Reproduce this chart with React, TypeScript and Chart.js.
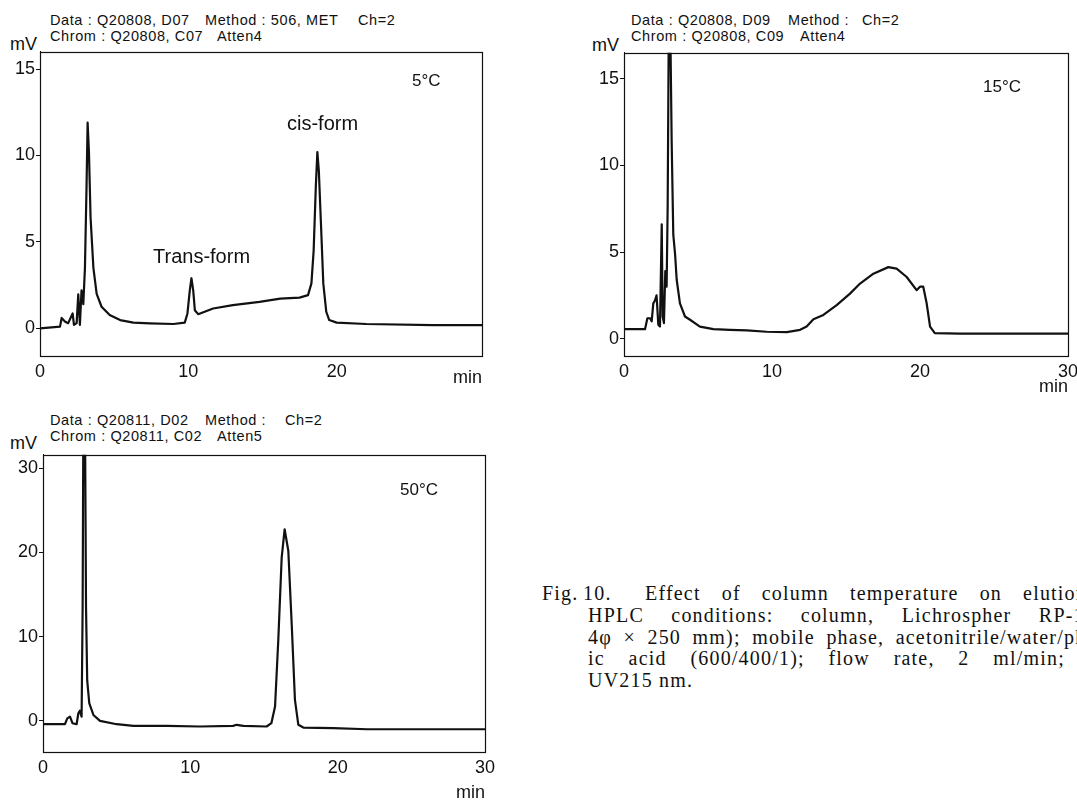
import React, { useEffect, useRef } from "react";
import { Chart, registerables } from "chart.js";

Chart.register(...registerables);

// ---- Data ----
// 5 °C chromatogram: retention time (min) and signal (mV)
const time5C = [0, 1.35, 1.46, 1.68, 1.9, 2.2, 2.29, 2.47, 2.58, 2.69, 2.8, 2.92, 3.03, 3.14, 3.21, 3.3, 3.41, 3.6, 3.82, 4.15, 4.7, 5.4, 6.3, 7.4, 9.0, 9.76, 9.94, 10.1, 10.21, 10.33, 10.44, 10.66, 11.1, 11.67, 13.0, 14.8, 16.2, 17.5, 18.07, 18.3, 18.45, 18.6, 18.7, 18.8, 18.97, 19.1, 19.3, 19.5, 20.0, 22.0, 26.5, 29.8];
const signal5C = [0, 0.1, 0.6, 0.4, 0.3, 0.86, 0.2, 0.3, 1.97, 0.2, 2.2, 1.4, 3.5, 8.3, 11.9, 10.2, 6.4, 3.5, 2.0, 1.25, 0.77, 0.48, 0.33, 0.29, 0.25, 0.33, 0.86, 2.2, 2.9, 2.2, 1.05, 0.82, 0.96, 1.15, 1.34, 1.53, 1.72, 1.78, 1.92, 2.6, 4.5, 8.3, 10.2, 9.1, 5.46, 2.6, 0.96, 0.48, 0.33, 0.25, 0.19, 0.19];

// 15 °C chromatogram
const time15C = [0, 1.42, 1.58, 1.76, 1.87, 1.98, 2.09, 2.2, 2.32, 2.43, 2.55, 2.61, 2.7, 2.79, 2.88, 2.95, 3.04, 3.1, 3.22, 3.33, 3.45, 3.56, 3.78, 4.12, 4.46, 5.13, 6.04, 7.16, 8.29, 9.64, 11.0, 11.9, 12.34, 12.8, 13.47, 14.37, 15.27, 15.95, 16.85, 17.86, 18.42, 19.1, 19.77, 20.0, 20.22, 20.45, 20.68, 21.0, 22.7, 30.0];
const signal15C = [0.55, 0.55, 1.18, 1.18, 1.0, 2.04, 2.2, 2.5, 0.8, 0.7, 6.6, 1.28, 0.9, 3.9, 3.0, 7.6, 20, 20, 11.4, 6.0, 4.9, 3.4, 2.04, 1.28, 1.09, 0.7, 0.55, 0.51, 0.48, 0.4, 0.38, 0.51, 0.7, 1.12, 1.37, 1.94, 2.6, 3.18, 3.75, 4.13, 4.04, 3.56, 2.8, 3.0, 3.0, 2.04, 0.7, 0.32, 0.29, 0.29];

// 50 °C chromatogram
const time50C = [0, 1.49, 1.65, 1.83, 2.0, 2.28, 2.4, 2.5, 2.62, 2.69, 2.74, 2.85, 2.92, 3.0, 3.14, 3.42, 3.87, 5.0, 6.13, 8.4, 10.66, 12.9, 13.15, 13.6, 15.18, 15.5, 15.75, 15.97, 16.2, 16.4, 16.65, 16.88, 17.1, 17.33, 17.67, 19.7, 22.0, 30.0];
const signal50C = [-0.4, -0.4, 0.3, 0.5, -0.28, -0.4, 0.9, 1.2, 0.5, 13.5, 36, 36, 13.5, 4.8, 2.1, 0.7, 0.0, -0.4, -0.6, -0.6, -0.67, -0.6, -0.47, -0.6, -0.67, -0.28, 1.7, 9.6, 19.4, 22.75, 20.2, 11.5, 2.5, -0.47, -0.8, -0.87, -1.0, -1.0];

// tick labels
const xTicks5C = [0, 10, 20];
const xTicksFull = [0, 10, 20, 30];
const yTicks15 = [0, 5, 10, 15];
const yTicks30 = [0, 10, 20, 30];

const INK = "#111";
const SANS = "'Liberation Sans', Arial, sans-serif";

const framePlugin = {
  id: "frame",
  afterDraw(chart: any) {
    const { ctx, chartArea: a } = chart;
    ctx.save();
    ctx.strokeStyle = INK;
    ctx.lineWidth = 1.2;
    ctx.strokeRect(Math.round(a.left) + 0.5, Math.round(a.top) + 0.5, Math.round(a.right - a.left), Math.round(a.bottom - a.top));
    ctx.restore();
  },
};

type ChromProps = {
  left: number; top: number; width: number; height: number;
  xs: number[]; ys: number[];
  xMax: number; yMin: number; yMax: number;
  xTicks: number[]; yTicks: number[];
};

const PAD_L = 40, PAD_T = 10, PAD_R = 14, PAD_B = 32;

function Chrom(p: ChromProps) {
  const ref = useRef<HTMLCanvasElement>(null);
  useEffect(() => {
    const chart = new Chart(ref.current!, {
      type: "scatter",
      data: {
        datasets: [{
          data: p.xs.map((x, i) => ({ x, y: p.ys[i] })),
          showLine: true,
          borderColor: INK,
          borderWidth: 2.2,
          pointRadius: 0,
          tension: 0,
          borderJoinStyle: "round",
        } as any],
      },
      options: {
        animation: false,
        responsive: false,
        maintainAspectRatio: false,
        layout: { padding: { left: 0, top: PAD_T, right: PAD_R, bottom: 0 } },
        plugins: { legend: { display: false }, tooltip: { enabled: false } },
        scales: {
          x: {
            type: "linear",
            min: 0,
            max: p.xMax,
            afterBuildTicks: (s: any) => { s.ticks = p.xTicks.map((v) => ({ value: v })); },
            afterFit: (s: any) => { s.height = PAD_B; },
            grid: { display: true, drawOnChartArea: false, drawTicks: true, tickLength: 4, tickColor: "rgba(0,0,0,0)" },
            border: { display: true, color: INK, width: 1 },
            ticks: { color: INK, font: { family: SANS, size: 18 }, padding: 1, maxRotation: 0, autoSkip: false },
          },
          y: {
            type: "linear",
            min: p.yMin,
            max: p.yMax,
            afterBuildTicks: (s: any) => { s.ticks = p.yTicks.map((v) => ({ value: v })); },
            afterFit: (s: any) => { s.width = PAD_L; },
            grid: { display: true, drawOnChartArea: false, drawTicks: true, tickLength: 4, tickColor: INK },
            border: { display: true, color: INK, width: 1 },
            ticks: { color: INK, font: { family: SANS, size: 18 }, padding: 1, autoSkip: false },
          },
        },
      } as any,
      plugins: [framePlugin],
    });
    return () => chart.destroy();
  }, []);
  const w = p.width + PAD_L + PAD_R;
  const h = p.height + PAD_T + PAD_B;
  return (
    <canvas
      ref={ref}
      width={w}
      height={h}
      style={{ position: "absolute", left: p.left - PAD_L, top: p.top - PAD_T, width: w, height: h }}
    />
  );
}

function Txt({ x, y, size, children, right, spacing }: any) {
  const style: React.CSSProperties = {
    position: "absolute",
    top: y - size * 0.6,
    fontFamily: SANS,
    fontSize: size,
    lineHeight: `${size * 1.2}px`,
    whiteSpace: "pre",
    letterSpacing: spacing || 0,
    color: INK,
  };
  if (right !== undefined) style.right = 1077 - right; else style.left = x;
  return <div style={style}>{children}</div>;
}

function Hdr({ x, y, children }: any) {
  return <Txt x={x} y={y} size={14.5} spacing={0.6}>{children}</Txt>;
}

const SERIF = "'Liberation Serif', 'DejaVu Serif', serif";

function CaptionLine({ x, y, width, text }: any) {
  return (
    <div
      style={{
        position: "absolute",
        left: x,
        top: y - 12,
        width,
        fontFamily: SERIF,
        fontSize: 20,
        lineHeight: "24px",
        letterSpacing: 1.2,
        whiteSpace: "nowrap",
        textAlign: width ? "justify" : "left",
        textAlignLast: width ? "justify" : "auto",
        color: INK,
      } as any}
    >
      {text}
    </div>
  );
}

export default function App() {
  return (
    <div style={{ position: "fixed", left: 0, top: 0, width: 1077, height: 800, overflow: "hidden", background: "#fff" }}>
      {/* 5 °C */}
      <Hdr x={50} y={21}>Data : Q20808, D07</Hdr>
      <Hdr x={205} y={21}>Method : 506, MET</Hdr>
      <Hdr x={358} y={21}>Ch=2</Hdr>
      <Hdr x={50} y={37}>Chrom : Q20808, C07</Hdr>
      <Hdr x={217} y={37}>Atten4</Hdr>
      <Txt x={10} y={45} size={18}>mV</Txt>
      <Chrom left={40} top={50} width={442} height={306} xs={time5C} ys={signal5C} xMax={29.8} yMin={-1.6} yMax={16.0} xTicks={xTicks5C} yTicks={yTicks15} />
      <Txt right={482} y={378} size={18}>min</Txt>
      <Txt x={412} y={81} size={17}>5°C</Txt>
      <Txt x={287} y={123} size={20}>cis-form</Txt>
      <Txt x={153} y={256} size={20}>Trans-form</Txt>

      {/* 15 °C */}
      <Hdr x={631} y={21}>Data : Q20808, D09</Hdr>
      <Hdr x={788} y={21}>Method :</Hdr>
      <Hdr x={862} y={21}>Ch=2</Hdr>
      <Hdr x={631} y={37}>Chrom : Q20808, C09</Hdr>
      <Hdr x={800} y={37}>Atten4</Hdr>
      <Txt x={592} y={46} size={18}>mV</Txt>
      <Chrom left={624} top={51} width={444} height={305} xs={time15C} ys={signal15C} xMax={30} yMin={-1.0} yMax={16.5} xTicks={xTicksFull} yTicks={yTicks15} />
      <Txt right={1068} y={387} size={18}>min</Txt>
      <Txt x={983} y={87} size={17}>15°C</Txt>

      {/* 50 °C */}
      <Hdr x={50} y={421}>Data : Q20811, D02</Hdr>
      <Hdr x={205} y={421}>Method :</Hdr>
      <Hdr x={285} y={421}>Ch=2</Hdr>
      <Hdr x={50} y={437}>Chrom : Q20811, C02</Hdr>
      <Hdr x={217} y={437}>Atten5</Hdr>
      <Txt x={10} y={444} size={18}>mV</Txt>
      <Chrom left={43} top={453} width={442} height={299} xs={time50C} ys={signal50C} xMax={30} yMin={-3.7} yMax={31.6} xTicks={xTicksFull} yTicks={yTicks30} />
      <Txt right={485} y={793} size={18}>min</Txt>
      <Txt x={400} y={490} size={17}>50°C</Txt>

      {/* caption */}
      <CaptionLine x={542} y={593} text="Fig." />
      <CaptionLine x={583} y={593} text="10." />
      <CaptionLine x={645} y={593} width={442} text="Effect of column temperature on elution" />
      <CaptionLine x={588} y={615} width={508} text="HPLC conditions: column, Lichrospher RP-18" />
      <CaptionLine x={588} y={637} width={560} text="4φ × 250 mm); mobile phase, acetonitrile/water/phosphor" />
      <CaptionLine x={588} y={658} width={477} text="ic acid (600/400/1); flow rate, 2 ml/min;" />
      <CaptionLine x={588} y={680} text="UV215 nm." />
    </div>
  );
}
